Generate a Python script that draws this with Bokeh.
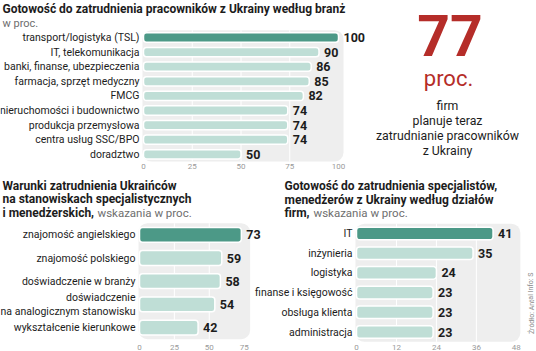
from bokeh.plotting import figure
from bokeh.models import Range1d
from bokeh.core.properties import value
from bokeh.embed import file_html
from bokeh.resources import INLINE

# ---------------- data ----------------
title_a = "Gotowość do zatrudnienia pracowników z Ukrainy według branż"
sub_a = "w proc."
cats_a = ["transport/logistyka (TSL)", "IT, telekomunikacja", "banki, finanse, ubezpieczenia",
          "farmacja, sprzęt medyczny", "FMCG", "nieruchomości i budownictwo",
          "produkcja przemysłowa", "centra usług SSC/BPO", "doradztwo"]
vals_a = [100, 90, 86, 85, 82, 74, 74, 74, 50]
ticks_a = [0, 25, 50, 75, 100]

big_value = 77
big_unit = "proc."
big_lines = ["firm", "planuje teraz", "zatrudnianie pracowników", "z Ukrainy"]

title_c = ["Warunki zatrudnienia Ukraińców", "na stanowiskach specjalistycznych", "i menedżerskich,"]
sub_c = "wskazania w proc."
cats_c = ["znajomość angielskiego", "znajomość polskiego", "doświadczenie w branży",
          "doświadczenie\nna analogicznym stanowisku", "wykształcenie kierunkowe"]
vals_c = [73, 59, 58, 54, 42]
ticks_c = [0, 25, 50, 75]

title_d = ["Gotowość do zatrudnienia specjalistów,", "menedżerów  z Ukrainy według działów", "firm,"]
sub_d = "wskazania w proc."
cats_d = ["IT", "inżynieria", "logistyka", "finanse i księgowość", "obsługa klienta", "administracja"]
vals_d = [41, 35, 24, 23, 23, 23]
ticks_d = [0, 12, 24, 36, 48]
source = "Źródło: Antal  Info: S"

# ---------------- style ----------------
W, H = 536, 351
FONT = "Roboto"
DARK = "#4c9987"
LIGHT = "#bfded6"
PANEL = "#eeeeee"
RED = "#b52d29"
INK = "#1c1c1c"
SUBGREY = "#6e6e6e"
TICKGREY = "#9a9a9a"

# One canvas; the default ranges are in pixels (y pointing down),
# each bar chart gets its own pair of data ranges.
p = figure(width=W, height=H, output_backend="svg", toolbar_location=None, title=None,
           x_range=Range1d(0, W), y_range=Range1d(H, 0),
           x_axis_type=None, y_axis_type=None,
           min_border=0, min_border_left=0, min_border_right=0,
           min_border_top=0, min_border_bottom=0)
p.outline_line_color = None
p.background_fill_color = "white"
p.border_fill_color = "white"


def put(x, y, s, size, style="normal", color=INK, align="left", angle=0):
    # y is the vertical centre of the capitals
    p.text(x=[x], y=[y], text=[s], text_font=value(FONT), text_font_size=size,
           text_font_style=style, text_color=color, text_align=align,
           text_baseline="middle", angle=angle)


def bar_chart(name, cats, vals, ticks, zero_px, ppu, first_px, step_px, bar_h,
              lab_size, val_size, pad_px, tick_px):
    n = len(cats)
    p.extra_x_ranges[name] = Range1d(-zero_px / ppu, (W - zero_px) / ppu)
    p.extra_y_ranges[name] = Range1d((H - first_px) / step_px, -first_px / step_px)
    kw = dict(x_range_name=name, y_range_name=name)
    idx = list(range(n))
    # background panel and white grid lines
    p.quad(left=[ticks[0] - 1.0 / ppu], right=[ticks[-1] + pad_px / ppu],
           top=[-0.5], bottom=[n - 0.5], fill_color=PANEL, line_color=None,
           border_radius=9, **kw)
    p.segment(x0=ticks[1:-1], x1=ticks[1:-1], y0=[-0.5] * (len(ticks) - 2),
              y1=[n - 0.5] * (len(ticks) - 2), line_color="white", line_width=1, **kw)
    colors = [DARK] + [LIGHT] * (n - 1)
    p.hbar(y=idx, left=0, right=vals, height=bar_h, fill_color=colors,
           line_color="white", line_width=1.5, border_radius=3, **kw)
    p.text(x=vals, y=idx, text=[str(v) for v in vals], x_offset=5,
           text_baseline="middle", text_align="left", text_font=value(FONT),
           text_font_style="bold", text_font_size=val_size, text_color=INK, **kw)
    # category labels
    p.text(x=[0] * n, y=idx, text=cats, x_offset=-4, text_baseline="middle",
           text_align="right", text_font=value(FONT), text_font_size=lab_size,
           text_color=INK, text_line_height=1.05, **kw)
    # tick labels
    bottom_px = first_px + (n - 0.5) * step_px
    p.text(x=ticks, y=[n - 0.5] * len(ticks), text=[str(t) for t in ticks],
           y_offset=tick_px - bottom_px, text_baseline="middle", text_align="center",
           text_font=value(FONT), text_font_size="8px", text_color=TICKGREY, **kw)


# ---------- top-left ----------
put(2, 8.5, title_a, "12px", style="bold")
put(2, 22.5, sub_a, "11px", color=SUBGREY)
bar_chart("a", cats_a, vals_a, ticks_a, zero_px=143, ppu=1.95, first_px=37, step_px=14.6,
          bar_h=0.64, lab_size="10.5px", val_size="12.5px", pad_px=5, tick_px=165.5)

# ---------- top-right text block ----------
put(449.5, 35, str(big_value), "57px", style="bold", color=RED, align="center")
put(448, 78, big_unit, "22px", color=RED, align="center")
for i, line in enumerate(big_lines):
    put(447, 105.5 + 15 * i, line, "12.3px", align="center")

# ---------- bottom-left ----------
for i, t in enumerate(title_c):
    put(2, 185.3 + 13.6 * i, t, "12px", style="bold")
put(97, 185.3 + 13.6 * 2, sub_c, "11.5px", color=SUBGREY)
bar_chart("c", cats_c, vals_c, ticks_c, zero_px=139, ppu=1.395, first_px=234.3, step_px=23.2,
          bar_h=0.64, lab_size="10.5px", val_size="12.5px", pad_px=6, tick_px=346.5)

# ---------- bottom-right ----------
for i, t in enumerate(title_d):
    put(284, 185.7 + 13.4 * i, t, "12px", style="bold")
put(313, 185.7 + 13.4 * 2, sub_d, "11.5px", color=SUBGREY)
bar_chart("d", cats_d, vals_d, ticks_d, zero_px=356, ppu=3.33, first_px=233, step_px=19.7,
          bar_h=0.64, lab_size="10.5px", val_size="12.5px", pad_px=4, tick_px=346.5)
put(531, 302, source, "7px", color="#8a8a8a", align="center", angle=1.5708)

open("out.html", "w").write(file_html(p, INLINE))
